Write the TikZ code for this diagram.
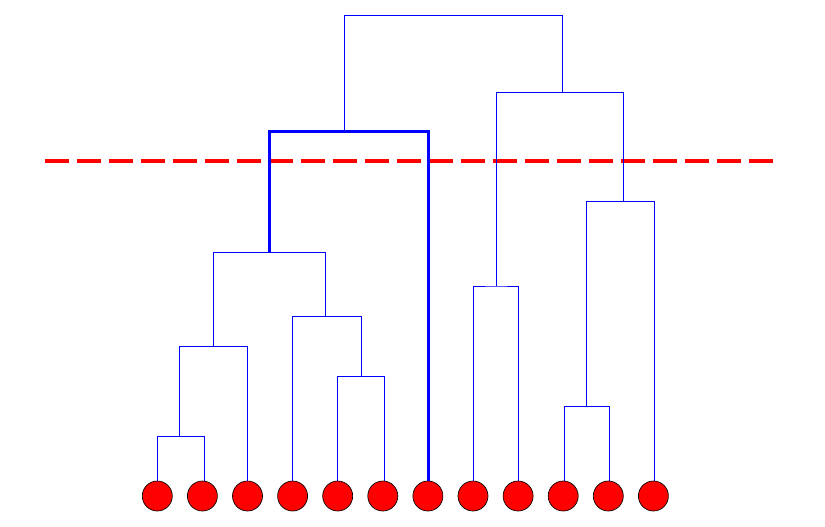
\documentclass[tikz,border=0pt]{standalone}
\begin{document}
\begin{tikzpicture}[x=0.75pt,y=-0.75pt,
  link/.style={draw=blue,line width=0.75pt,line join=miter},
  thicklink/.style={draw=blue,line width=2.4pt,line join=miter},
  cutline/.style={draw=red,line width=3pt,dash pattern=on 18pt off 6pt},
  leaf/.style={circle,fill=red,draw=black,line width=0.5pt,minimum size=22.5pt,inner sep=0pt}]
\useasboundingbox (0,0) rectangle (825,526);
% leaves
\foreach \i in {0,...,11}{
  \node[leaf] (l\i) at ({157.3+45.1*\i},496) {};
}
% tops of leaf lines
\coordinate (t0) at (157.3,481);
\coordinate (t1) at (204.3,481);
\coordinate (t2) at (247.3,481);
\coordinate (t3) at (292.3,481);
\coordinate (t4) at (337.3,481);
\coordinate (t5) at (384.3,481);
\coordinate (t6) at (428.3,481);
\coordinate (t7) at (473.3,481);
\coordinate (t8) at (518.3,481);
\coordinate (t9) at (564.3,481);
\coordinate (t10) at (609.6,481);
\coordinate (t11) at (654.3,481);
% internal merge points
\coordinate (n01) at (179.7,436.3);
\coordinate (n012) at (213.3,346.3);
\coordinate (n45) at (361.3,376.3);
\coordinate (n345) at (325.3,316.3);
\coordinate (n05) at (269.3,252.3);
\coordinate (n06) at (344.3,131.7);
\coordinate (n78) at (496.3,286);
\coordinate (n910) at (586.3,406.3);
\coordinate (n911) at (623.3,201.3);
\coordinate (n711) at (562.3,92.3);
\coordinate (root) at (453,15.5);
% cut line
\coordinate (cutL) at (45.3,161);
\coordinate (cutR) at (773.3,161);
\draw[cutline] (cutL) -- (cutR);
% dendrogram
\draw[link] (t0) |- (n01) -| (t1);
\draw[link] (n01) |- (n012) -| (t2);
\draw[link] (t4) |- (n45) -| (t5);
\draw[link] (t3) |- (n345) -| (n45);
\draw[link] (n012) |- (n05) -| (n345);
\draw[thicklink] (n05) |- (n06) -| (t6);
\draw[link] (t7) |- (n78) -| (t8);
\draw[link] (t9) |- (n910) -| (t10);
\draw[link] (n910) |- (n911) -| (t11);
\draw[link] (n78) |- (n711) -| (n911);
\draw[link] (n06) |- (root) -| (n711);
\end{tikzpicture}
\end{document}
